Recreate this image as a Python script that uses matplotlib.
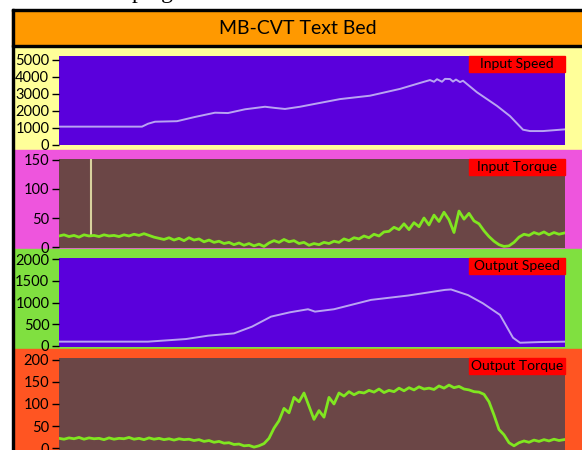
import matplotlib.pyplot as plt
from matplotlib.patches import Rectangle

W, H = 582, 450

# sample index (0..506 across the plot window)
in_speed_t = [0, 83, 89, 96, 118, 136, 156, 169, 186, 206, 216, 226, 241, 256, 281, 311,
              341, 361, 371, 375, 378, 383, 386, 391, 394, 397, 401, 404, 418, 438, 451,
              464, 471, 484, 506]
in_speed = [1080, 1080, 1250, 1370, 1400, 1650, 1900, 1880, 2100, 2250, 2180, 2120, 2250,
            2420, 2700, 2900, 3300, 3650, 3820, 3720, 3870, 3720, 3890, 3880, 3730, 3850,
            3700, 3780, 3100, 2300, 1700, 900, 820, 820, 920]

torque_t = list(range(0, 510, 5))
in_torque = [19, 21, 18, 20, 17, 21, 19, 20, 18, 21, 19, 20, 18, 21, 19, 22, 20, 23, 20, 17,
             15, 13, 16, 12, 15, 11, 16, 12, 14, 9, 12, 8, 10, 6, 8, 4, 7, 3, 6, 2,
             5, 1, 7, 11, 8, 13, 9, 11, 6, 8, 3, 6, 4, 8, 6, 10, 8, 14, 11, 16,
             14, 19, 16, 22, 19, 26, 27, 34, 30, 40, 30, 42, 35, 50, 38, 55, 44, 60, 47, 25,
             62, 48, 58, 45, 40, 28, 18, 10, 4, 1, 2, 8, 17, 22, 20, 25, 22, 26, 21, 25,
             22, 24]
spike_t = 32
spike_top = 160

out_speed_t = [0, 89, 127, 149, 175, 193, 212, 231, 249, 251, 256, 275, 312, 349, 386, 392,
               409, 424, 441, 454, 461, 480, 506]
out_speed = [100, 100, 160, 237, 290, 445, 675, 775, 845, 830, 790, 845, 1060, 1160, 1290,
             1300, 1170, 980, 715, 190, 75, 90, 100]

out_torque = [22, 20, 23, 21, 24, 20, 23, 21, 22, 19, 23, 20, 22, 21, 24, 20, 22, 19, 23, 20,
              22, 19, 21, 18, 21, 19, 20, 17, 19, 15, 17, 13, 15, 11, 12, 8, 9, 5, 6, 2,
              5, 10, 22, 45, 62, 90, 80, 115, 105, 125, 95, 65, 85, 70, 115, 100, 125, 118, 128, 121,
              127, 125, 131, 127, 134, 126, 131, 128, 136, 130, 137, 132, 139, 134, 136, 133, 141, 136, 143, 137,
              140, 134, 132, 128, 127, 122, 105, 75, 42, 30, 12, 5, 12, 16, 13, 18, 15, 19, 16, 20,
              17, 19]

panel_cols = ['#FFFF99', '#EE55DD', '#80E040', '#FF5522']
panel_y = [46, 150, 249, 349, 452]
plot_y = [(56, 145), (159, 248), (258, 347), (358, 451)]
ylims = [(0, 5235), (-1.7, 151.7), (-23, 2023), (-6.8, 204.5)]
yticks = [range(0, 5001, 1000), range(0, 151, 50), range(0, 2001, 500), range(0, 201, 50)]
labels = ['Input Speed', 'Input Torque', 'Output Speed', 'Output Torque']
plot_bg = ['#5A00DC', '#6B4646', '#5A00DC', '#6B4646']

plt.rcParams['font.family'] = ['Lato', 'DejaVu Sans']
fig = plt.figure(figsize=(W / 100, H / 100), dpi=100)


def rect(x0, y0, x1, y1, color):
    fig.patches.append(Rectangle((x0 / W, 1 - y1 / H), (x1 - x0) / W, (y1 - y0) / H,
                                 transform=fig.transFigure, color=color, zorder=-10))


rect(12, 10, 582, 46, '#FF9900')
for i in range(4):
    rect(14, panel_y[i], 582, panel_y[i + 1], panel_cols[i])
rect(12, 9, 582, 11, 'black')
rect(12, 9, 14, 450, 'black')
rect(12, 45, 582, 47, 'black')
fig.text(298 / W, 1 - 29 / H, 'MB-CVT Text Bed', ha='center', va='center', fontsize=14)
fig.text(132 / W, 1 + 1.5 / H, 'ping', ha='left', va='baseline', fontsize=17,
         family='Liberation Serif')

series = [(in_speed_t, in_speed, '#B9A4F2'), (torque_t, in_torque, '#80E620'),
          (out_speed_t, out_speed, '#B9A4F2'), (torque_t, out_torque, '#80E620')]

for i in range(4):
    y0, y1 = plot_y[i]
    ax = fig.add_axes([59 / W, 1 - y1 / H, (565 - 59) / W, (y1 - y0) / H])
    ax.set_facecolor(plot_bg[i])
    t, v, c = series[i]
    if i == 1:
        ax.plot([spike_t, spike_t], [v[6], spike_top], color='#D8D29E', lw=1.5)
    ax.plot(t, v, color=c, lw=2.0 if i % 2 else 1.4)
    ax.set_xlim(0, 506)
    ax.set_ylim(*ylims[i])
    ax.set_yticks(list(yticks[i]))
    ax.set_xticks([])
    ax.tick_params(axis='y', length=5, width=1, pad=2, labelsize=10.5)
    for s in ax.spines.values():
        s.set_visible(False)
    # red caption box, pixel-sized
    bh = 16 / (y1 - y0)
    bx = (469 - 59) / 506
    yb = 1 - bh
    ax.add_patch(Rectangle((bx, yb), 1 - bx, bh, transform=ax.transAxes,
                           color='#FF0000', zorder=5, clip_on=False))
    ax.text((1 + bx) / 2, yb + bh / 2, labels[i], transform=ax.transAxes,
            ha='center', va='center', fontsize=10, color='black', zorder=6)

fig.savefig('out.png', dpi=100)
